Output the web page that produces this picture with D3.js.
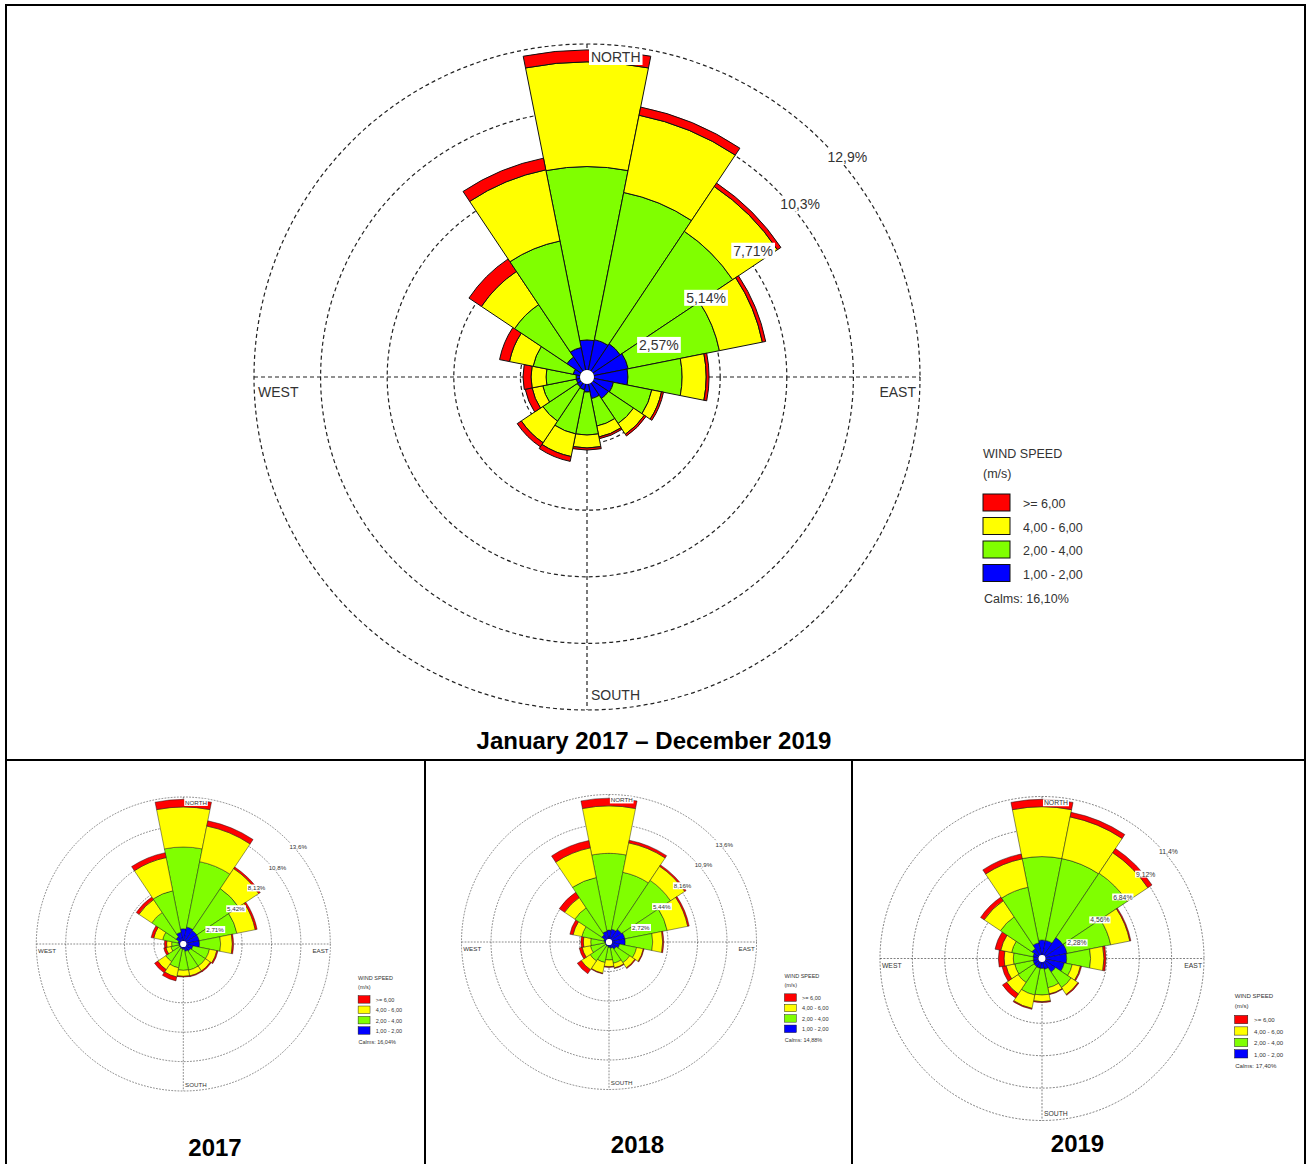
<!DOCTYPE html>
<html>
<head>
<meta charset="utf-8">
<script src="https://cdn.jsdelivr.net/npm/d3@7"></script>
<style>
  body { margin: 0; background: #fff; }
  svg { display: block; }
  text { font-family: "Liberation Sans", Arial, sans-serif; }
</style>
</head>
<body>
<svg id="chart" width="1307" height="1164"></svg>
<script>
// 16 compass sectors, clockwise from north
const directions = ["N", "NNE", "NE", "ENE", "E", "ESE", "SE", "SSE",
                    "S", "SSW", "SW", "WSW", "W", "WNW", "NW", "NNW"];

// wind speed classes (m/s), listed as in the legend
const speedLabels = [">= 6,00", "4,00 - 6,00", "2,00 - 4,00", "1,00 - 2,00"];
const speedColors = ["#ff0000", "#ffff00", "#80ff00", "#0000ff"];

// ---- January 2017 - December 2019: frequency (%) per direction and speed class
const all_1to2 = [1.43, 1.47, 1.54, 1.62, 1.58, 1.04, 1.00, 0.85, 0.58, 0.50, 0.46, 0.42, 0.42, 0.54, 0.93, 1.16];
const all_2to4 = [6.69, 5.79, 5.22, 3.59, 2.09, 1.51, 1.16, 1.08, 1.66, 1.74, 1.59, 1.32, 1.16, 1.58, 2.43, 4.19];
const all_4to6 = [4.04, 3.04, 2.08, 1.69, 0.93, 0.38, 0.50, 0.43, 0.50, 0.89, 1.00, 0.42, 0.58, 0.93, 1.54, 2.80];
const all_ge6  = [0.46, 0.32, 0.16, 0.13, 0.11, 0.08, 0.08, 0.07, 0.08, 0.19, 0.19, 0.27, 0.31, 0.39, 0.58, 0.46];
const all_rings = [2.57, 5.14, 7.71, 10.28, 12.85];
const all_ringLabels = ["2,57%", "5,14%", "7,71%", "10,3%", "12,9%"];
const all_calms = "16,10%";

// ---- 2017
const y2017_1to2 = [1.41, 1.60, 1.50, 1.50, 1.50, 0.90, 0.80, 0.70, 0.50, 0.45, 0.40, 0.40, 0.40, 0.50, 0.80, 1.10];
const y2017_2to4 = [7.53, 6.14, 4.64, 3.54, 1.94, 1.56, 1.66, 1.76, 1.93, 1.79, 1.55, 0.77, 0.68, 1.44, 2.70, 3.90];
const y2017_4to6 = [3.69, 3.35, 2.22, 1.72, 1.08, 0.69, 0.54, 0.54, 0.55, 0.86, 0.89, 0.46, 0.46, 0.84, 1.42, 3.12];
const y2017_ge6  = [0.70, 0.49, 0.18, 0.18, 0.12, 0.11, 0.10, 0.08, 0.07, 0.37, 0.35, 0.21, 0.21, 0.25, 0.30, 0.46];
const y2017_rings = [2.71, 5.42, 8.13, 10.84, 13.55];
const y2017_ringLabels = ["2,71%", "5,42%", "8,13%", "10,8%", "13,6%"];
const y2017_calms = "16,04%";

// ---- 2018
const y2018_1to2 = [1.10, 1.20, 1.40, 1.50, 1.50, 1.00, 0.80, 0.60, 0.50, 0.40, 0.40, 0.35, 0.40, 0.50, 0.80, 1.00];
const y2018_2to4 = [7.08, 5.35, 5.43, 3.97, 2.53, 1.60, 1.50, 1.40, 1.16, 1.53, 1.70, 1.40, 1.29, 2.05, 2.99, 5.06];
const y2018_4to6 = [4.37, 2.77, 1.57, 1.93, 0.92, 0.63, 0.57, 0.44, 0.62, 1.01, 0.98, 0.78, 0.68, 0.83, 1.14, 2.79];
const y2018_ge6  = [0.71, 0.25, 0.15, 0.14, 0.10, 0.07, 0.08, 0.06, 0.07, 0.06, 0.44, 0.27, 0.23, 0.30, 0.59, 0.69];
const y2018_rings = [2.72, 5.44, 8.16, 10.88, 13.6];
const y2018_ringLabels = ["2,72%", "5,44%", "8,16%", "10,9%", "13,6%"];
const y2018_calms = "14,88%";

// ---- 2019
const y2019_1to2 = [1.30, 1.30, 1.77, 1.80, 1.74, 1.60, 1.15, 0.78, 0.70, 0.70, 0.68, 0.65, 0.61, 0.65, 0.85, 1.13];
const y2019_2to4 = [5.87, 5.87, 5.45, 3.13, 1.68, 0.57, 1.32, 1.32, 1.87, 1.92, 1.35, 1.31, 1.41, 1.53, 2.67, 3.98];
const y2019_4to6 = [3.51, 2.99, 1.74, 1.37, 0.94, 0.59, 0.58, 0.45, 0.47, 0.96, 0.97, 0.62, 0.65, 0.78, 1.38, 2.04];
const y2019_ge6  = [0.52, 0.33, 0.35, 0.08, 0.14, 0.08, 0.07, 0.05, 0.06, 0.07, 0.35, 0.29, 0.40, 0.41, 0.30, 0.35];
const y2019_rings = [2.28, 4.56, 6.84, 9.12, 11.4];
const y2019_ringLabels = ["2,28%", "4,56%", "6,84%", "9,12%", "11,4%"];
const y2019_calms = "17,40%";

const svg = d3.select("#chart");
const BASE_R = 333;      // outer ring radius of a rose in its own units
const HOLE_R = 7;        // calm circle at the centre
const TEXT = "#333";

// text with a white box behind it
function boxedText(g, x, y, str, anchor, size) {
  const t = g.append("text")
    .attr("x", x).attr("y", y)
    .attr("text-anchor", anchor)
    .attr("font-size", size)
    .attr("fill", TEXT)
    .text(str);
  const bb = t.node().getBBox();
  g.insert("rect", () => t.node())
    .attr("x", bb.x - 2).attr("y", bb.y)
    .attr("width", bb.width + 4).attr("height", bb.height)
    .attr("fill", "#fff");
  return t;
}

function drawRose(cx, cy, radius, bands, rings, ringLabels, calms) {
  const g = svg.append("g")
    .attr("transform", `translate(${cx},${cy}) scale(${radius / BASE_R})`);
  const r = d3.scaleLinear().domain([0, rings[rings.length - 1]]).range([0, BASE_R]);

  // dashed grid: rings and cross
  g.append("g").selectAll("circle")
    .data(rings)
    .join("circle")
    .attr("r", d => r(d))
    .attr("fill", "none")
    .attr("stroke", "#222")
    .attr("stroke-width", 1.2)
    .attr("stroke-dasharray", "4,3");
  g.append("line").attr("x1", -BASE_R).attr("x2", BASE_R).attr("y1", 0).attr("y2", 0)
    .attr("stroke", "#222").attr("stroke-width", 1.2).attr("stroke-dasharray", "4,3");
  g.append("line").attr("y1", -BASE_R).attr("y2", BASE_R).attr("x1", 0).attr("x2", 0)
    .attr("stroke", "#222").attr("stroke-width", 1.2).attr("stroke-dasharray", "4,3");

  // stacked sectors, slowest class innermost
  const step = 2 * Math.PI / directions.length;
  const arc = d3.arc();
  const stacked = [];
  directions.forEach((dir, i) => {
    let cum = 0;
    [3, 2, 1, 0].forEach(k => {
      const v = bands[k][i];
      const inner = cum === 0 ? HOLE_R : r(cum);
      cum += v;
      stacked.push({
        dir, color: speedColors[k],
        innerRadius: inner, outerRadius: r(cum),
        startAngle: i * step - step / 2, endAngle: i * step + step / 2
      });
    });
  });
  g.append("g").selectAll("path")
    .data(stacked)
    .join("path")
    .attr("d", arc)
    .attr("fill", d => d.color)
    .attr("stroke", "#111")
    .attr("stroke-width", 1);

  // calm circle
  g.append("circle").attr("r", HOLE_R).attr("fill", "#fff");

  // ring labels along the north-east diagonal
  rings.forEach((v, i) => {
    const p = r(v) * Math.SQRT1_2;
    boxedText(g, p + 5, -p + 20, ringLabels[i], "start", 14);
  });

  // cardinal points
  boxedText(g, 4, -BASE_R + 18, "NORTH", "start", 14);
  boxedText(g, 4, BASE_R - 10, "SOUTH", "start", 14);
  boxedText(g, -BASE_R + 4, 20, "WEST", "start", 14);
  boxedText(g, BASE_R - 4, 20, "EAST", "end", 14);

  // legend
  const lg = g.append("g").attr("transform", "translate(396,0)");
  lg.append("text").attr("x", 0).attr("y", 81).attr("font-size", 12.5).attr("fill", TEXT).text("WIND SPEED");
  lg.append("text").attr("x", 0).attr("y", 101).attr("font-size", 12.5).attr("fill", TEXT).text("(m/s)");
  const rows = lg.selectAll("g.row")
    .data(speedLabels)
    .join("g")
    .attr("class", "row")
    .attr("transform", (d, i) => `translate(0,${117 + i * 23.5})`);
  rows.append("rect")
    .attr("width", 27).attr("height", 17)
    .attr("fill", (d, i) => speedColors[i])
    .attr("stroke", "#111").attr("stroke-width", 1);
  rows.append("text")
    .attr("x", 40).attr("y", 14)
    .attr("font-size", 12.5).attr("fill", TEXT)
    .text(d => d);
  lg.append("text").attr("x", 1).attr("y", 226).attr("font-size", 12.5).attr("fill", TEXT)
    .text("Calms: " + calms);
}

// table frame
const frame = svg.append("g").attr("stroke", "#000").attr("stroke-width", 2);
frame.append("line").attr("x1", 5).attr("x2", 1306).attr("y1", 5).attr("y2", 5);
frame.append("line").attr("x1", 6).attr("x2", 6).attr("y1", 4).attr("y2", 1164);
frame.append("line").attr("x1", 1305).attr("x2", 1305).attr("y1", 4).attr("y2", 1164);
frame.append("line").attr("x1", 5).attr("x2", 1306).attr("y1", 760).attr("y2", 760);
frame.append("line").attr("x1", 425).attr("x2", 425).attr("y1", 760).attr("y2", 1164);
frame.append("line").attr("x1", 852).attr("x2", 852).attr("y1", 760).attr("y2", 1164);

drawRose(587, 377, 333, [all_ge6, all_4to6, all_2to4, all_1to2], all_rings, all_ringLabels, all_calms);
drawRose(183.3, 944, 147, [y2017_ge6, y2017_4to6, y2017_2to4, y2017_1to2], y2017_rings, y2017_ringLabels, y2017_calms);
drawRose(609, 942, 147.5, [y2018_ge6, y2018_4to6, y2018_2to4, y2018_1to2], y2018_rings, y2018_ringLabels, y2018_calms);
drawRose(1042, 958.5, 162, [y2019_ge6, y2019_4to6, y2019_2to4, y2019_1to2], y2019_rings, y2019_ringLabels, y2019_calms);

// captions
const captions = [
  { text: "January 2017 \u2013 December 2019", x: 654, y: 749 },
  { text: "2017", x: 215, y: 1156 },
  { text: "2018", x: 637.5, y: 1153 },
  { text: "2019", x: 1077.5, y: 1152 }
];
svg.append("g").selectAll("text")
  .data(captions)
  .join("text")
  .attr("x", d => d.x).attr("y", d => d.y)
  .attr("text-anchor", "middle")
  .attr("font-size", 24).attr("font-weight", "bold").attr("fill", "#000")
  .text(d => d.text);
</script>
</body>
</html>
